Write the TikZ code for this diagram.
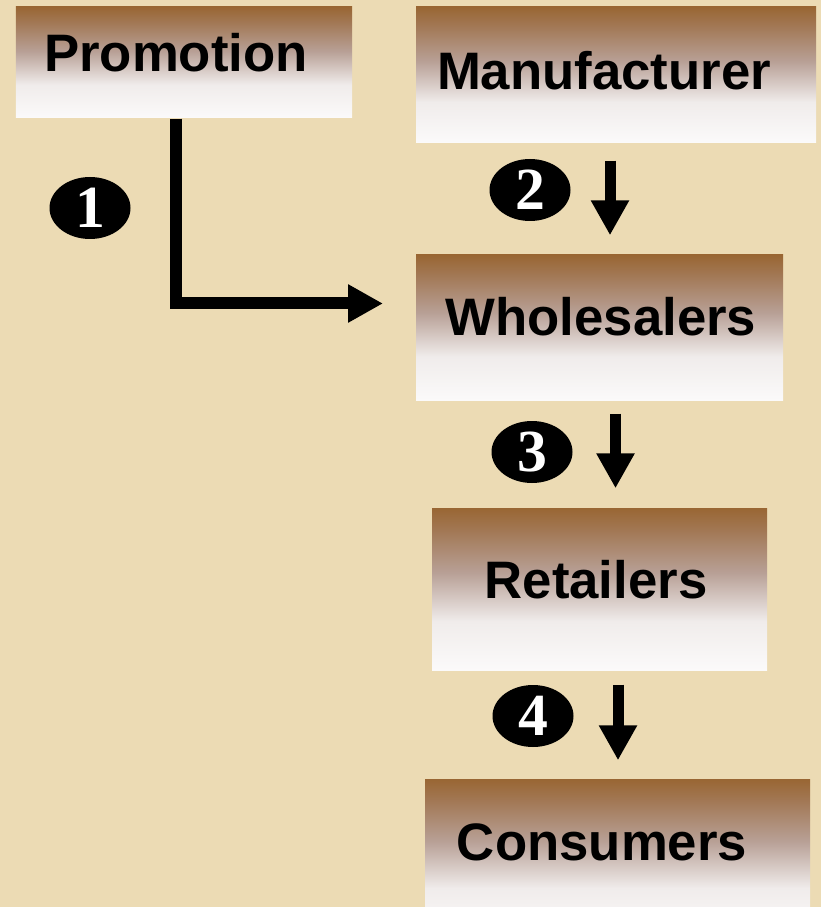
\documentclass[tikz,border=0pt]{standalone}
\usepackage{fontspec}
\newfontfamily\stagefont{Liberation Sans}
\newfontfamily\numfont{Liberation Serif}
\usepackage{tikz}
\usetikzlibrary{shapes}
\usetikzlibrary{arrows.meta}
\usetikzlibrary{calc}
\definecolor{paper}{RGB}{236,219,180}
\definecolor{stagetop}{RGB}{153,102,51}
\definecolor{stagedeep}{RGB}{162,120,85}
\definecolor{stagemid}{RGB}{184,160,150}
\definecolor{stagepale}{RGB}{240,236,235}
\definecolor{stagelow}{RGB}{251,250,250}
% brown at the top, fading to white
\pgfdeclareverticalshading{stagefade}{100bp}{color(0bp)=(stagelow); color(25bp)=(stagelow); color(40bp)=(stagepale); color(55bp)=(stagemid); color(68bp)=(stagedeep); color(75bp)=(stagetop); color(100bp)=(stagetop)}
\tikzstyle{stage}=[inner sep=0pt, shading=stagefade]
\tikzstyle{stagetext}=[anchor=base, inner sep=0pt, font={\stagefont\bfseries\fontsize{15}{18}\selectfont}]
\tikzstyle{badge}=[ellipse, fill=black, text=white, inner sep=0pt, minimum width=.81cm, minimum height=.62cm, font={\numfont\bfseries\fontsize{17}{20}\selectfont}]
\tikzstyle{flow}=[line width=.11cm, -{Triangle[length=.35cm,width=.36cm]}]
\tikzstyle{bigflow}=[line width=.12cm, -{Triangle[length=.35cm,width=.36cm]}]

\begin{document}
\begin{tikzpicture}
 \fill[paper] (0,0) rectangle (8.21,-9.07);
 \clip (0,0) rectangle (8.21,-9.07);
%
 \node[stage, minimum width=3.36cm, minimum height=1.11cm] (prom) at (1.84,-.625) {};
 \node[stage, minimum width=4.00cm, minimum height=1.36cm] (manu) at (6.16,-.75) {};
 \node[stage, minimum width=3.67cm, minimum height=1.45cm] (whole) at (5.995,-3.275) {};
 \node[stage, minimum width=3.35cm, minimum height=1.62cm] (retail) at (5.995,-5.89) {};
 \node[stage, minimum width=3.85cm, minimum height=1.56cm] (cons) at (6.175,-8.57) {};
%
 \node[stagetext] (promtxt) at (1.76,-.72) {Promotion};
 \node[stagetext] (manutxt) at (6.04,-.90) {Manufacturer};
 \node[stagetext] (wholetxt) at (6.01,-3.355) {Wholesalers};
 \node[stagetext] (retailtxt) at (5.96,-5.98) {Retailers};
 \node[stagetext] (constxt) at (6.02,-8.60) {Consumers};
%
 \node[badge] (n1) at (.90,-2.08) {1};
 \node[badge] (n2) at (5.30,-1.90) {2};
 \node[badge] (n3) at (5.32,-4.52) {3};
 \node[badge] (n4) at (5.33,-7.16) {4};
%
 \coordinate (elbow) at (1.76,-3.035);
 \coordinate (tip1) at (3.83,-3.035);
 \draw[bigflow] (prom.south -| elbow) |- (tip1);
%
 \coordinate (c2) at (6.10,0);
 \coordinate (c3) at (6.155,0);
 \coordinate (c4) at (6.18,0);
 \draw[flow, shorten <=.17cm, shorten >=.19cm] (manu.south -| c2) -- (whole.north -| c2);
 \draw[flow, shorten <=.13cm, shorten >=.19cm] (whole.south -| c3) -- (retail.north -| c3);
 \draw[flow, shorten <=.14cm, shorten >=.18cm] (retail.south -| c4) -- (cons.north -| c4);
\end{tikzpicture}
\end{document}
